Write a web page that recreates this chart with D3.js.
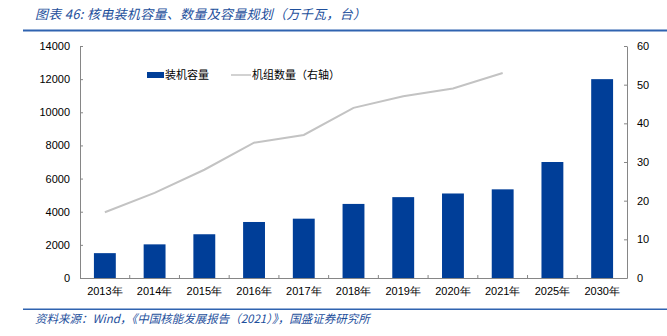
<!DOCTYPE html>
<html><head><meta charset="utf-8">
<script src="https://cdn.jsdelivr.net/npm/d3@7"></script>
<style>
html,body{margin:0;padding:0;background:#fff;}
svg{display:block;}
</style></head>
<body>
<svg id="chart" width="667" height="336"></svg>
<script>
const categories = ["2013年","2014年","2015年","2016年","2017年","2018年","2019年","2020年","2021年","2025年","2030年"];
const capacity = [1500, 2030, 2640, 3380, 3580, 4470, 4880, 5100, 5350, 7000, 12000];
const unitCount = [17, 22, 28, 35, 37, 44, 47, 49, 53, null, null];
const leftTicks = [0, 2000, 4000, 6000, 8000, 10000, 12000, 14000];
const rightTicks = [0, 10, 20, 30, 40, 50, 60];
const titleText = "图表 46: 核电装机容量、数量及容量规划（万千瓦，台）";
const sourceText = "资料来源：Wind，《中国核能发展报告（2021）》，国盛证券研究所";
const legendBar = "装机容量";
const legendLine = "机组数量（右轴）";

(function () {
const svg = d3.select("#chart");
const pLeft = 80, pRight = 627, pTop = 46, pBottom = 278;
const x = d3.scaleBand().domain(categories).range([pLeft, pRight]).paddingInner(0.56).paddingOuter(0.28);
const yL = d3.scaleLinear().domain([0, 14000]).range([pBottom, pTop]);
const yR = d3.scaleLinear().domain([0, 60]).range([pBottom, pTop]);
const blue = "#003e98";
const axisColor = "#868686";
const cjk = "'Noto Sans CJK SC', sans-serif";
const num = "'Liberation Sans', Arial, sans-serif";

// Title
svg.append("text").attr("x", 35).attr("y", 19)
  .attr("font-family", cjk).attr("font-size", 13).attr("font-style", "italic")
  .attr("letter-spacing", 0.3)
  .attr("fill", "#1e4f9c").text(titleText);
svg.append("rect").attr("x", 23).attr("y", 29.5).attr("width", 644).attr("height", 2).attr("fill", "#2f63b0");

// Bars
svg.append("g").selectAll("rect").data(categories).join("rect")
  .attr("x", d => x(d)).attr("width", x.bandwidth())
  .attr("y", (d, i) => yL(capacity[i])).attr("height", (d, i) => pBottom - yL(capacity[i]))
  .attr("fill", blue);

// Line
const line = d3.line().defined(d => d.v != null).x(d => x(d.c) + x.bandwidth() / 2).y(d => yR(d.v));
svg.append("path").datum(categories.map((c, i) => ({c, v: unitCount[i]})))
  .attr("d", line).attr("fill", "none").attr("stroke", "#c3c3c3").attr("stroke-width", 2);

// Left axis
const gL = svg.append("g").attr("transform", `translate(${pLeft},0)`)
  .call(d3.axisLeft(yL).tickValues(leftTicks).tickFormat(d3.format("d")).tickSizeInner(-3).tickSizeOuter(0).tickPadding(10));
gL.select(".domain").attr("stroke", axisColor);
gL.selectAll(".tick line").attr("stroke", axisColor);
gL.selectAll("text").attr("font-family", num).attr("font-size", 11).attr("fill", "#000");

// Right axis
const gR = svg.append("g").attr("transform", `translate(${pRight},0)`)
  .call(d3.axisRight(yR).tickValues(rightTicks).tickFormat(d3.format("d")).tickSizeInner(-3).tickSizeOuter(0).tickPadding(10));
gR.select(".domain").attr("stroke", axisColor);
gR.selectAll(".tick line").attr("stroke", axisColor);
gR.selectAll("text").attr("font-family", num).attr("font-size", 11).attr("fill", "#000");

// Bottom axis
const gB = svg.append("g").attr("transform", `translate(0,${pBottom})`)
  .call(d3.axisBottom(x).tickSize(0).tickPadding(9));
gB.select(".domain").attr("stroke", axisColor);
gB.selectAll("text").attr("font-family", num).attr("font-size", 11).attr("fill", "#000");
const step = x.step();
const bounds = d3.range(1, categories.length).map(i => x(categories[i]) - (step - x.bandwidth()) / 2);
svg.append("g").selectAll("line").data(bounds).join("line")
  .attr("x1", d => d).attr("x2", d => d).attr("y1", pBottom - 3).attr("y2", pBottom)
  .attr("stroke", axisColor);

// Legend
svg.append("rect").attr("x", 147).attr("y", 72).attr("width", 17).attr("height", 6).attr("fill", blue);
svg.append("text").attr("x", 165).attr("y", 79).attr("font-family", cjk).attr("font-size", 11).attr("fill", "#000").text(legendBar);
svg.append("line").attr("x1", 231).attr("x2", 251).attr("y1", 75).attr("y2", 75).attr("stroke", "#c3c3c3").attr("stroke-width", 1.5);
svg.append("text").attr("x", 252).attr("y", 79).attr("font-family", cjk).attr("font-size", 11).attr("fill", "#000").text(legendLine);

// Source
svg.append("rect").attr("x", 23).attr("y", 308.5).attr("width", 644).attr("height", 1.5).attr("fill", "#2f63b0");
svg.append("text").attr("x", 35).attr("y", 323)
  .attr("font-family", cjk).attr("font-size", 11.5).attr("font-style", "italic")
  .attr("fill", "#1e4f9c").text(sourceText);
})();
</script>
</body></html>
